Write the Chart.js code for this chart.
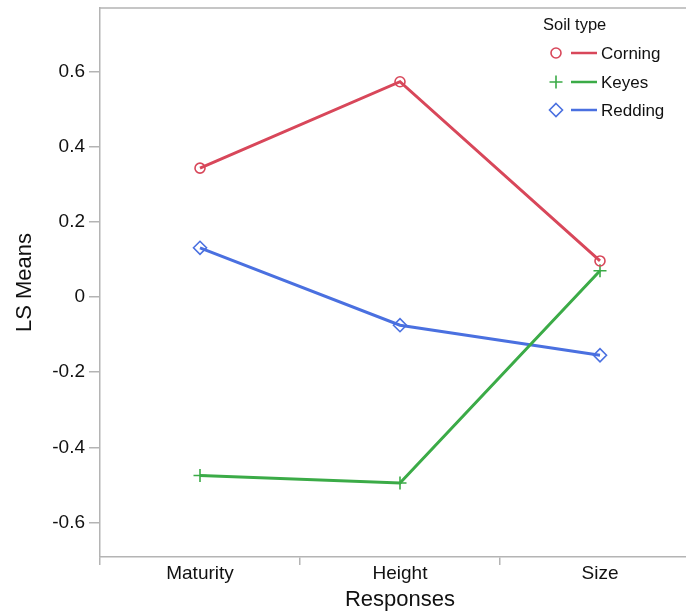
<!DOCTYPE html>
<html>
<head>
<meta charset="utf-8">
<script src="https://cdn.jsdelivr.net/npm/chart.js@4/dist/chart.umd.min.js"></script>
<style>
  html, body { margin: 0; padding: 0; background: #fff; overflow: hidden; width: 686px; height: 613px; }
  #wrap { width: 720px; height: 613px; }
</style>
</head>
<body>
<div id="wrap"><canvas id="c" width="720" height="613"></canvas></div>
<script>
const categories = ["Maturity", "Height", "Size"];
const corning = [0.343, 0.573, 0.096];
const keyes = [-0.475, -0.495, 0.070];
const redding = [0.131, -0.075, -0.155];
const yTicks = [-0.6, -0.4, -0.2, 0, 0.2, 0.4, 0.6];
const legendTitle = "Soil type";

const FONT = "'Liberation Sans', Arial, Helvetica, sans-serif";
const AXIS = "#b4b4b4";
const RED = "#d8475a";
const GREEN = "#3bab47";
const BLUE = "#4a70e0";

function drawMarker(ctx, style, x, y, color) {
  ctx.save();
  ctx.strokeStyle = color;
  ctx.lineWidth = 1.6;
  ctx.beginPath();
  if (style === 'circle') {
    ctx.arc(x, y, 5, 0, Math.PI * 2);
  } else if (style === 'cross') {
    ctx.moveTo(x - 6.5, y); ctx.lineTo(x + 6.5, y);
    ctx.moveTo(x, y - 6.5); ctx.lineTo(x, y + 6.5);
  } else {
    ctx.moveTo(x, y - 6.5); ctx.lineTo(x + 6.5, y);
    ctx.lineTo(x, y + 6.5); ctx.lineTo(x - 6.5, y); ctx.closePath();
  }
  ctx.stroke();
  ctx.restore();
}

const framePlugin = {
  id: 'frame',
  afterDraw(chart) {
    const { ctx, chartArea: a } = chart;
    ctx.save();
    ctx.strokeStyle = AXIS;
    ctx.lineWidth = 1.5;
    ctx.beginPath();
    ctx.moveTo(a.left, a.top); ctx.lineTo(a.right, a.top);
    ctx.moveTo(a.right, a.top); ctx.lineTo(a.right, a.bottom);
    ctx.stroke();
    // legend
    ctx.fillStyle = '#111';
    ctx.textBaseline = 'middle';
    ctx.textAlign = 'left';
    ctx.font = "16.5px " + FONT;
    ctx.fillText(legendTitle, 543, 25);
    ctx.font = "17px " + FONT;
    const rows = [53, 82, 110];
    chart.data.datasets.forEach((ds, i) => {
      const y = rows[i];
      drawMarker(ctx, ds.pointStyle, 556, y, ds.borderColor);
      ctx.strokeStyle = ds.borderColor;
      ctx.lineWidth = 2.5;
      ctx.beginPath(); ctx.moveTo(571, y); ctx.lineTo(597, y); ctx.stroke();
      ctx.fillStyle = '#111';
      ctx.fillText(ds.label, 601, y + 1);
    });
    ctx.restore();
  }
};

function ds(label, data, color, style, radius) {
  return {
    label, data,
    borderColor: color,
    backgroundColor: 'rgba(0,0,0,0)',
    borderWidth: 3,
    pointStyle: style,
    pointRadius: radius,
    pointHoverRadius: radius,
    pointBorderWidth: 1.6,
    pointBorderColor: color,
    pointBackgroundColor: 'rgba(0,0,0,0)',
    tension: 0,
    fill: false
  };
}

new Chart(document.getElementById('c'), {
  type: 'line',
  data: {
    labels: categories,
    datasets: [
      ds('Corning', corning, RED, 'circle', 5),
      ds('Keyes', keyes, GREEN, 'cross', 6.5),
      ds('Redding', redding, BLUE, 'rectRot', 6.5)
    ]
  },
  plugins: [framePlugin],
  options: {
    responsive: false,
    animation: false,
    events: [],
    layout: { padding: { left: 0, right: 20, top: 7, bottom: 0 } },
    plugins: { legend: { display: false }, tooltip: { enabled: false } },
    scales: {
      x: {
        type: 'category',
        offset: true,
        border: { display: true, color: AXIS, width: 1.5 },
        grid: { offset: true, display: true, drawOnChartArea: false, drawTicks: true, tickLength: 8, color: AXIS, lineWidth: 1.5 },
        ticks: { color: '#111', font: { family: FONT, size: 19 }, padding: -3 },
        title: { display: true, text: 'Responses', color: '#111', font: { family: FONT, size: 22 }, padding: { top: 2, bottom: 0 } },
        afterFit(s) { s.height = 56; s.paddingLeft = 0; s.paddingRight = 0; }
      },
      y: {
        type: 'linear',
        min: -0.692,
        max: 0.769,
        border: { display: true, color: AXIS, width: 1.5 },
        grid: { display: true, drawOnChartArea: false, drawTicks: true, tickLength: 11, color: AXIS, lineWidth: 1.5 },
        afterBuildTicks(s) { s.ticks = yTicks.map(v => ({ value: v })); },
        ticks: {
          color: '#111', font: { family: FONT, size: 19 }, padding: 4,
          callback: v => String(Math.round(v * 10) / 10)
        },
        title: { display: true, text: 'LS Means', color: '#111', font: { family: FONT, size: 22 }, padding: { top: 12, bottom: 0 } },
        afterFit(s) { s.width = 100; s.paddingTop = 0; s.paddingBottom = 0; }
      }
    }
  }
});
</script>
</body>
</html>
